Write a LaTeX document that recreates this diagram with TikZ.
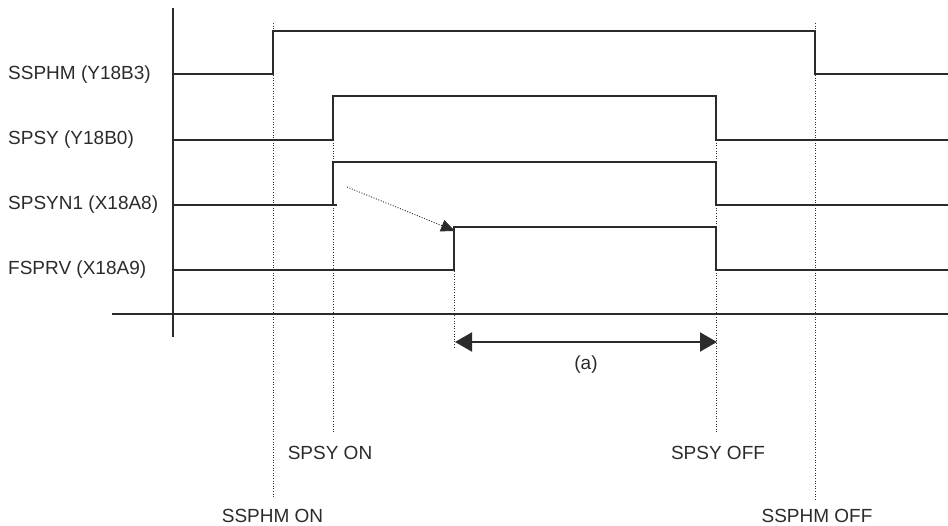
\documentclass[tikz,border=0pt]{standalone}
\usepackage{fontspec}
\setmainfont{Liberation Sans}
\usetikzlibrary{arrows.meta}
\definecolor{ink}{HTML}{2B2B2B}
\begin{document}
\begin{tikzpicture}[x=1pt,y=-1pt,
  sig/.style={draw=ink,line width=2pt,line join=miter},
  axis/.style={draw=ink,line width=1.4pt},
  guide/.style={draw=ink,line width=0.9pt,dash pattern=on 1pt off 1.6pt},
  lbl/.style={font=\fontsize{19}{22}\selectfont,text=ink,inner sep=0pt},
  ]
\useasboundingbox (0,0) rectangle (948,526);
% axes
\draw[axis] (173,8) -- (173,337);
\draw[axis] (112,314) -- (948,314);
% guide lines
\draw[guide] (273,23) -- (273,498);
\draw[guide] (333,96) -- (333,433);
\draw[guide] (454,227) -- (454,347);
\draw[guide] (716,96) -- (716,433);
\draw[guide] (815,23) -- (815,500);
% signals
\draw[sig] (173,74) -- (273,74) -- (273,31) -- (815,31) -- (815,74) -- (948,74);
\draw[sig] (173,140) -- (333,140) -- (333,96) -- (716,96) -- (716,140) -- (948,140);
\draw[sig] (173,205) -- (337,205);
\draw[sig] (333,205) -- (333,162) -- (716,162) -- (716,205) -- (948,205);
\draw[sig] (173,270) -- (454,270) -- (454,227) -- (716,227) -- (716,270) -- (948,270);
% labels left
\node[lbl,anchor=west] (l1) at (8,74.5) {SSPHM (Y18B3)};
\node[lbl,anchor=west] (l2) at (8,140) {SPSY (Y18B0)};
\node[lbl,anchor=west] (l3) at (8,205) {SPSYN1 (X18A8)};
\node[lbl,anchor=west] (l4) at (8,270) {FSPRV (X18A9)};
% causal arrow
\coordinate (cs) at (347,187);
\coordinate (ce) at (455,231);
\draw[guide,-{Triangle[length=14pt,width=12pt]}] (cs) -- (ce);
% duration
\coordinate (da) at (455,342);
\coordinate (db) at (717,342);
\draw[draw=ink,line width=2pt,{Triangle[length=17pt,width=19pt]}-{Triangle[length=17pt,width=19pt]}] (da) -- (db);
\node[lbl] (a) at (586,365) {(a)};
% bottom labels
\node[lbl] (son) at (330,453) {SPSY ON};
\node[lbl] (soff) at (718,453) {SPSY OFF};
\node[lbl] (hon) at (272.5,516) {SSPHM ON};
\node[lbl] (hoff) at (817,516) {SSPHM OFF};
\end{tikzpicture}
\end{document}
